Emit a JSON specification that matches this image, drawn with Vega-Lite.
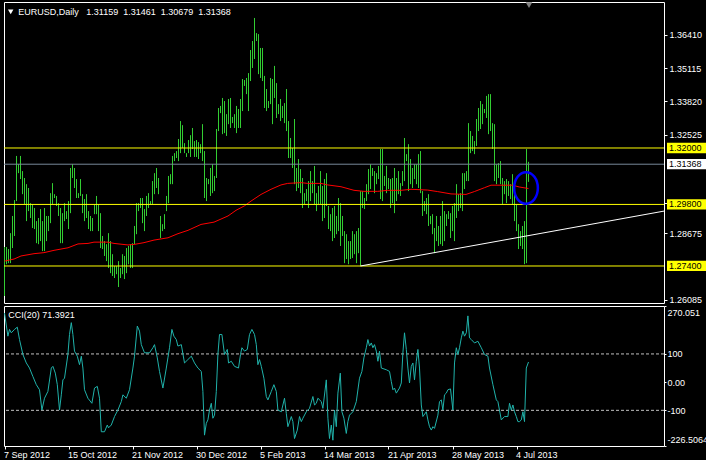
{
"$schema":"https://vega.github.io/schema/vega-lite/v6.json",
"background":"#000000",
"padding":{"left":3,"top":1,"right":0,"bottom":0},
"spacing":3,
"bounds":"flush",
"config":{"view":{"stroke":"#FFFFFF","strokeWidth":1},"font":"Liberation Sans","text":{"font":"Liberation Sans"},
 "axis":{"domain":false,"grid":false,"labelColor":"#FFFFFF","labelFont":"Liberation Sans","labelFontSize":9,"tickColor":"#FFFFFF","labelOverlap":false,"labelAlign":"left"}},
"datasets":{
"bars":[
{"i":0,"h":1.2814,"l":1.2623},{"i":1,"h":1.2814,"l":1.2747},{"i":2,"h":1.2806,"l":1.2751},{"i":3,"h":1.2868,"l":1.2751},{"i":4,"h":1.2935,"l":1.281},{"i":5,"h":1.2997,"l":1.2857},{"i":6,"h":1.3169,"l":1.2993},{"i":7,"h":1.3137,"l":1.3102},{"i":8,"h":1.3169,"l":1.3079},{"i":9,"h":1.311,"l":1.302},
{"i":10,"h":1.3083,"l":1.2981},{"i":11,"h":1.3059,"l":1.2915},{"i":12,"h":1.3044,"l":1.2954},{"i":13,"h":1.2985,"l":1.2927},{"i":14,"h":1.2981,"l":1.2888},{"i":15,"h":1.2966,"l":1.2884},{"i":16,"h":1.2915,"l":1.2829},{"i":17,"h":1.2927,"l":1.2825},{"i":18,"h":1.2962,"l":1.2837},{"i":19,"h":1.2915,"l":1.2798},
{"i":20,"h":1.2966,"l":1.2798},{"i":21,"h":1.2935,"l":1.2837},{"i":22,"h":1.2935,"l":1.2876},{"i":23,"h":1.3024,"l":1.2907},{"i":24,"h":1.3063,"l":1.2981},{"i":25,"h":1.302,"l":1.3005},{"i":26,"h":1.3013,"l":1.2974},{"i":27,"h":1.2985,"l":1.2935},{"i":28,"h":1.2966,"l":1.2829},{"i":29,"h":1.2946,"l":1.2829},
{"i":30,"h":1.2985,"l":1.2915},{"i":31,"h":1.2954,"l":1.2923},{"i":32,"h":1.2993,"l":1.2884},{"i":33,"h":1.3122,"l":1.2946},{"i":34,"h":1.3137,"l":1.3083},{"i":35,"h":1.3122,"l":1.3044},{"i":36,"h":1.3079,"l":1.3005},{"i":37,"h":1.3024,"l":1.3005},{"i":38,"h":1.3079,"l":1.3013},{"i":39,"h":1.302,"l":1.2946},
{"i":40,"h":1.3001,"l":1.2915},{"i":41,"h":1.302,"l":1.2927},{"i":42,"h":1.2954,"l":1.2884},{"i":43,"h":1.2935,"l":1.2876},{"i":44,"h":1.2927,"l":1.2876},{"i":45,"h":1.2981,"l":1.2942},{"i":46,"h":1.3013,"l":1.2942},{"i":47,"h":1.2981,"l":1.2876},{"i":48,"h":1.2946,"l":1.281},{"i":49,"h":1.2857,"l":1.2806},
{"i":50,"h":1.2837,"l":1.2779},{"i":51,"h":1.2825,"l":1.2759},{"i":52,"h":1.2868,"l":1.2732},{"i":53,"h":1.2837,"l":1.2712},{"i":54,"h":1.2786,"l":1.2701},{"i":55,"h":1.274,"l":1.2693},{"i":56,"h":1.274,"l":1.2708},{"i":57,"h":1.2759,"l":1.2658},{"i":58,"h":1.2732,"l":1.2693},{"i":59,"h":1.2786,"l":1.2708},
{"i":60,"h":1.2779,"l":1.2689},{"i":61,"h":1.281,"l":1.2712},{"i":62,"h":1.2818,"l":1.2747},{"i":63,"h":1.2825,"l":1.2732},{"i":64,"h":1.2829,"l":1.2732},{"i":65,"h":1.2896,"l":1.2825},{"i":66,"h":1.2985,"l":1.2864},{"i":67,"h":1.2985,"l":1.2954},{"i":68,"h":1.3005,"l":1.2966},{"i":69,"h":1.3005,"l":1.2907},
{"i":70,"h":1.2962,"l":1.2876},{"i":71,"h":1.3013,"l":1.2935},{"i":72,"h":1.3024,"l":1.2966},{"i":73,"h":1.2993,"l":1.2981},{"i":74,"h":1.3071,"l":1.2981},{"i":75,"h":1.3102,"l":1.302},{"i":76,"h":1.3122,"l":1.3044},{"i":77,"h":1.3083,"l":1.302},{"i":78,"h":1.2935,"l":1.2849},{"i":79,"h":1.2903,"l":1.2876},
{"i":80,"h":1.2942,"l":1.2884},{"i":81,"h":1.3013,"l":1.2954},{"i":82,"h":1.3091,"l":1.2985},{"i":83,"h":1.3098,"l":1.3059},{"i":84,"h":1.3169,"l":1.3059},{"i":85,"h":1.318,"l":1.3149},{"i":86,"h":1.3188,"l":1.3161},{"i":87,"h":1.3235,"l":1.3149},{"i":88,"h":1.3305,"l":1.318},{"i":89,"h":1.3289,"l":1.32},
{"i":90,"h":1.3219,"l":1.318},{"i":91,"h":1.318,"l":1.3165},{"i":92,"h":1.3231,"l":1.318},{"i":93,"h":1.325,"l":1.3165},{"i":94,"h":1.3278,"l":1.3196},{"i":95,"h":1.3227,"l":1.3165},{"i":96,"h":1.3231,"l":1.3165},{"i":97,"h":1.3223,"l":1.3157},{"i":98,"h":1.3215,"l":1.318},{"i":99,"h":1.3293,"l":1.3149},
{"i":100,"h":1.3188,"l":1.3005},{"i":101,"h":1.3083,"l":1.2993},{"i":102,"h":1.3079,"l":1.3059},{"i":103,"h":1.3122,"l":1.3013},{"i":104,"h":1.3137,"l":1.3024},{"i":105,"h":1.3091,"l":1.3032},{"i":106,"h":1.3274,"l":1.3083},{"i":107,"h":1.3356,"l":1.3266},{"i":108,"h":1.3364,"l":1.3336},{"i":109,"h":1.3395,"l":1.3254},
{"i":110,"h":1.3383,"l":1.3258},{"i":111,"h":1.3332,"l":1.3247},{"i":112,"h":1.3391,"l":1.3293},{"i":113,"h":1.3395,"l":1.3278},{"i":114,"h":1.3321,"l":1.3297},{"i":115,"h":1.3332,"l":1.3278},{"i":116,"h":1.3364,"l":1.3258},{"i":117,"h":1.3352,"l":1.3278},{"i":118,"h":1.3391,"l":1.3278},{"i":119,"h":1.3469,"l":1.3344},
{"i":120,"h":1.3465,"l":1.3442},{"i":121,"h":1.3473,"l":1.341},{"i":122,"h":1.3492,"l":1.3344},{"i":123,"h":1.3582,"l":1.3461},{"i":124,"h":1.3617,"l":1.3512},{"i":125,"h":1.3707,"l":1.3547},{"i":126,"h":1.3648,"l":1.3617},{"i":127,"h":1.3644,"l":1.3488},{"i":128,"h":1.359,"l":1.3473},{"i":129,"h":1.359,"l":1.3461},
{"i":130,"h":1.3481,"l":1.3356},{"i":131,"h":1.343,"l":1.3344},{"i":132,"h":1.3383,"l":1.3356},{"i":133,"h":1.3473,"l":1.3371},{"i":134,"h":1.3469,"l":1.3293},{"i":135,"h":1.352,"l":1.3395},{"i":136,"h":1.3453,"l":1.3317},{"i":137,"h":1.3371,"l":1.3332},{"i":138,"h":1.3391,"l":1.3305},{"i":139,"h":1.3364,"l":1.3317},
{"i":140,"h":1.3375,"l":1.3297},{"i":141,"h":1.343,"l":1.3266},{"i":142,"h":1.3305,"l":1.3161},{"i":143,"h":1.3239,"l":1.3161},{"i":144,"h":1.32,"l":1.3122},{"i":145,"h":1.3313,"l":1.3059},{"i":146,"h":1.3122,"l":1.3032},{"i":147,"h":1.3157,"l":1.3044},{"i":148,"h":1.3118,"l":1.3024},{"i":149,"h":1.3083,"l":1.2966},
{"i":150,"h":1.3024,"l":1.2981},{"i":151,"h":1.304,"l":1.2993},{"i":152,"h":1.3071,"l":1.2966},{"i":153,"h":1.311,"l":1.2993},{"i":154,"h":1.3071,"l":1.3024},{"i":155,"h":1.313,"l":1.2981},{"i":156,"h":1.3024,"l":1.2954},{"i":157,"h":1.3052,"l":1.2981},{"i":158,"h":1.311,"l":1.2981},{"i":159,"h":1.3052,"l":1.2915},
{"i":160,"h":1.3079,"l":1.2927},{"i":161,"h":1.3102,"l":1.2974},{"i":162,"h":1.2974,"l":1.2884},{"i":163,"h":1.2942,"l":1.2876},{"i":164,"h":1.2966,"l":1.2837},{"i":165,"h":1.2974,"l":1.2849},{"i":166,"h":1.2935,"l":1.2864},{"i":167,"h":1.3005,"l":1.2876},{"i":168,"h":1.2985,"l":1.2818},{"i":169,"h":1.2935,"l":1.2857},
{"i":170,"h":1.2876,"l":1.2751},{"i":171,"h":1.2864,"l":1.2767},{"i":172,"h":1.2837,"l":1.2747},{"i":173,"h":1.2837,"l":1.2767},{"i":174,"h":1.2876,"l":1.2771},{"i":175,"h":1.2864,"l":1.2786},{"i":176,"h":1.2876,"l":1.2751},{"i":177,"h":1.2888,"l":1.279},{"i":178,"h":1.3032,"l":1.274},{"i":179,"h":1.3032,"l":1.2966},
{"i":180,"h":1.3005,"l":1.2962},{"i":181,"h":1.3059,"l":1.2993},{"i":182,"h":1.3118,"l":1.302},{"i":183,"h":1.3137,"l":1.304},{"i":184,"h":1.3122,"l":1.3091},{"i":185,"h":1.311,"l":1.3024},{"i":186,"h":1.3102,"l":1.3059},{"i":187,"h":1.313,"l":1.3079},{"i":188,"h":1.3196,"l":1.3001},{"i":189,"h":1.3196,"l":1.2993},
{"i":190,"h":1.3091,"l":1.3052},{"i":191,"h":1.313,"l":1.3024},{"i":192,"h":1.3083,"l":1.304},{"i":193,"h":1.3079,"l":1.2966},{"i":194,"h":1.3083,"l":1.2985},{"i":195,"h":1.3122,"l":1.2946},{"i":196,"h":1.3083,"l":1.2993},{"i":197,"h":1.311,"l":1.302},{"i":198,"h":1.3063,"l":1.3013},{"i":199,"h":1.311,"l":1.3052},
{"i":200,"h":1.3239,"l":1.3071},{"i":201,"h":1.3176,"l":1.3149},{"i":202,"h":1.3215,"l":1.3032},{"i":203,"h":1.3157,"l":1.3059},{"i":204,"h":1.3122,"l":1.3044},{"i":205,"h":1.3137,"l":1.3079},{"i":206,"h":1.3137,"l":1.3059},{"i":207,"h":1.3176,"l":1.3044},{"i":208,"h":1.3188,"l":1.3024},{"i":209,"h":1.3032,"l":1.2935},
{"i":210,"h":1.2993,"l":1.2954},{"i":211,"h":1.3005,"l":1.2942},{"i":212,"h":1.302,"l":1.2896},{"i":213,"h":1.2935,"l":1.2903},{"i":214,"h":1.2942,"l":1.2864},{"i":215,"h":1.2888,"l":1.279},{"i":216,"h":1.2935,"l":1.2837},{"i":217,"h":1.2896,"l":1.2818},{"i":218,"h":1.2935,"l":1.2825},{"i":219,"h":1.2993,"l":1.2818},
{"i":220,"h":1.2954,"l":1.2837},{"i":221,"h":1.2942,"l":1.2896},{"i":222,"h":1.2954,"l":1.2923},{"i":223,"h":1.2946,"l":1.2849},{"i":224,"h":1.2974,"l":1.2876},{"i":225,"h":1.2985,"l":1.2837},{"i":226,"h":1.3059,"l":1.2927},{"i":227,"h":1.302,"l":1.2954},{"i":228,"h":1.3024,"l":1.2966},{"i":229,"h":1.3102,"l":1.2954},
{"i":230,"h":1.3102,"l":1.304},{"i":231,"h":1.311,"l":1.3071},{"i":232,"h":1.3297,"l":1.3071},{"i":233,"h":1.3266,"l":1.318},{"i":234,"h":1.3247,"l":1.3188},{"i":235,"h":1.3227,"l":1.3176},{"i":236,"h":1.3313,"l":1.3208},{"i":237,"h":1.3356,"l":1.3266},{"i":238,"h":1.3383,"l":1.3274},{"i":239,"h":1.3371,"l":1.3293},
{"i":240,"h":1.3352,"l":1.3336},{"i":241,"h":1.3403,"l":1.3317},{"i":242,"h":1.341,"l":1.3254},{"i":243,"h":1.341,"l":1.3266},{"i":244,"h":1.3297,"l":1.3196},{"i":245,"h":1.3293,"l":1.3071},{"i":246,"h":1.3137,"l":1.3059},{"i":247,"h":1.3141,"l":1.3083},{"i":248,"h":1.3149,"l":1.3059},{"i":249,"h":1.3083,"l":1.2981},
{"i":250,"h":1.3071,"l":1.302},{"i":251,"h":1.3079,"l":1.2985},{"i":252,"h":1.3071,"l":1.3013},{"i":253,"h":1.3059,"l":1.3001},{"i":254,"h":1.3098,"l":1.2981},{"i":255,"h":1.3059,"l":1.2915},{"i":256,"h":1.2981,"l":1.2876},{"i":257,"h":1.2903,"l":1.2806},{"i":258,"h":1.2876,"l":1.2818},{"i":259,"h":1.2896,"l":1.2806},
{"i":260,"h":1.2915,"l":1.2747},{"i":261,"h":1.3196,"l":1.2751},{"i":262,"h":1.31461,"l":1.30679}
],
"ma":[
{"i":0,"p":1.2759},{"i":4.75,"p":1.2767},{"i":8.25,"p":1.2779},{"i":14.75,"p":1.2788},{"i":19.75,"p":1.2792},{"i":24.75,"p":1.2801},{"i":31.75,"p":1.2811},{"i":36.75,"p":1.2826},{"i":41.75,"p":1.2828},{"i":44.75,"p":1.2833},{"i":51.75,"p":1.2833},{"i":54.75,"p":1.2828},{"i":61.75,"p":1.2822},{"i":64.75,"p":1.2824},{"i":69.75,"p":1.2831},{"i":74.75,"p":1.2841},{"i":81.75,"p":1.285},{"i":86.75,"p":1.2866},{"i":91.75,"p":1.2879},{"i":98.25,"p":1.2902},{"i":104.75,"p":1.2911},{"i":111.75,"p":1.2935},{"i":115.75,"p":1.2957},{"i":119.9,"p":1.2974},{"i":123.25,"p":1.2993},{"i":128.25,"p":1.3019},{"i":133.25,"p":1.3039},{"i":138.25,"p":1.3056},{"i":141.6,"p":1.3062},{"i":148.25,"p":1.3065},{"i":151.6,"p":1.3062},{"i":158.25,"p":1.3062},{"i":161.6,"p":1.3056},{"i":168.25,"p":1.3049},{"i":174.75,"p":1.3035},{"i":179.75,"p":1.3031},{"i":186.6,"p":1.3031},{"i":191.6,"p":1.3035},{"i":198.25,"p":1.3035},{"i":203.25,"p":1.3039},{"i":211.6,"p":1.3036},{"i":216.6,"p":1.303},{"i":223.25,"p":1.3021},{"i":230.75,"p":1.3019},{"i":234.9,"p":1.303},{"i":239.9,"p":1.3045},{"i":243.25,"p":1.3055},{"i":254.1,"p":1.3055},{"i":257.4,"p":1.3048},{"i":262,"p":1.3042}
],
"cci":[
{"i":0,"v":245},{"i":1.7,"v":163},{"i":2.5,"v":187},{"i":3.4,"v":175},{"i":5,"v":187},{"i":6.4,"v":195},{"i":7.5,"v":151},{"i":9.2,"v":98},{"i":10.9,"v":68},{"i":12.5,"v":50},{"i":14.2,"v":20},{"i":15.9,"v":-9},{"i":17.5,"v":-27},{"i":18.7,"v":-99},{"i":20,"v":-57},{"i":21.7,"v":-33},{"i":23.4,"v":50},{"i":24.2,"v":56},{"i":25.4,"v":32},{"i":26.4,"v":-9},{"i":27.5,"v":-99},{"i":28.4,"v":-45},{"i":29.2,"v":8},{"i":30,"v":14},{"i":31.7,"v":98},{"i":32.5,"v":169},{"i":33.4,"v":211},{"i":34.2,"v":169},{"i":35,"v":110},{"i":36.4,"v":92},{"i":37.5,"v":62},{"i":38.4,"v":92},{"i":39.2,"v":50},{"i":40,"v":-27},{"i":41.7,"v":-57},{"i":43.7,"v":-75},{"i":45,"v":-21},{"i":46.4,"v":-15},{"i":47.5,"v":-57},{"i":48.4,"v":-176},{"i":50,"v":-176},{"i":51.4,"v":-152},{"i":52,"v":-162},{"i":53.4,"v":-152},{"i":55,"v":-122},{"i":56.7,"v":-99},{"i":58.4,"v":-69},{"i":59.2,"v":-45},{"i":60.9,"v":-57},{"i":62.5,"v":-27},{"i":64.2,"v":50},{"i":65,"v":92},{"i":66.4,"v":199},{"i":67.5,"v":181},{"i":68.4,"v":133},{"i":70,"v":104},{"i":72.5,"v":104},{"i":74.2,"v":122},{"i":75,"v":133},{"i":76.4,"v":86},{"i":77.5,"v":38},{"i":79.2,"v":-21},{"i":80.9,"v":50},{"i":81.7,"v":86},{"i":82.5,"v":122},{"i":83.7,"v":187},{"i":84.7,"v":163},{"i":85.9,"v":151},{"i":86.7,"v":128},{"i":88.4,"v":133},{"i":90,"v":68},{"i":91.7,"v":80},{"i":93.4,"v":92},{"i":95,"v":68},{"i":96.7,"v":50},{"i":98.4,"v":38},{"i":99.2,"v":-33},{"i":100,"v":-188},{"i":100.9,"v":-146},{"i":101.7,"v":-134},{"i":102.5,"v":-99},{"i":103.4,"v":-75},{"i":104.2,"v":-128},{"i":105,"v":-117},{"i":105.9,"v":-33},{"i":106.7,"v":98},{"i":107.5,"v":169},{"i":108.7,"v":169},{"i":110,"v":98},{"i":111.4,"v":116},{"i":112,"v":68},{"i":113.4,"v":74},{"i":115,"v":56},{"i":117,"v":50},{"i":118,"v":98},{"i":118.7,"v":122},{"i":120,"v":110},{"i":121.4,"v":116},{"i":122.5,"v":169},{"i":123.7,"v":187},{"i":125,"v":169},{"i":125.9,"v":133},{"i":126.7,"v":62},{"i":127.5,"v":80},{"i":128.4,"v":56},{"i":129.7,"v":14},{"i":130.9,"v":-51},{"i":131.7,"v":-63},{"i":133.4,"v":-33},{"i":134.7,"v":-9},{"i":135.9,"v":-33},{"i":136.7,"v":-99},{"i":138.4,"v":-105},{"i":140,"v":-57},{"i":140.9,"v":-111},{"i":141.7,"v":-158},{"i":143.4,"v":-122},{"i":144.2,"v":-140},{"i":145,"v":-200},{"i":146.4,"v":-170},{"i":147.5,"v":-122},{"i":148.4,"v":-140},{"i":149.2,"v":-128},{"i":150.9,"v":-105},{"i":152.5,"v":-93},{"i":154.2,"v":-51},{"i":155,"v":-81},{"i":155.9,"v":-75},{"i":156.7,"v":-57},{"i":158.4,"v":-69},{"i":159.2,"v":-93},{"i":160.9,"v":8},{"i":161.7,"v":-128},{"i":162.5,"v":-200},{"i":163.4,"v":-152},{"i":164.2,"v":-206},{"i":165,"v":-99},{"i":165.9,"v":-158},{"i":166.7,"v":-39},{"i":167.9,"v":32},{"i":168.7,"v":-105},{"i":169.7,"v":-128},{"i":170.9,"v":-182},{"i":171.7,"v":-140},{"i":172.5,"v":-117},{"i":174.2,"v":-105},{"i":175.9,"v":-69},{"i":177.5,"v":14},{"i":178.7,"v":38},{"i":179.7,"v":86},{"i":180.9,"v":122},{"i":181.7,"v":151},{"i":182.5,"v":128},{"i":183.4,"v":139},{"i":184.2,"v":122},{"i":185,"v":133},{"i":185.9,"v":110},{"i":186.7,"v":74},{"i":187.5,"v":110},{"i":188.4,"v":50},{"i":190.9,"v":44},{"i":192.5,"v":38},{"i":193.4,"v":2},{"i":194.2,"v":-27},{"i":195,"v":-21},{"i":195.9,"v":-39},{"i":197.5,"v":-21},{"i":198.4,"v":-3},{"i":199.2,"v":104},{"i":200,"v":175},{"i":200.9,"v":116},{"i":201.7,"v":50},{"i":202.5,"v":-3},{"i":203.4,"v":56},{"i":204.2,"v":68},{"i":205,"v":8},{"i":205.9,"v":74},{"i":206.7,"v":116},{"i":207.5,"v":50},{"i":208.4,"v":-81},{"i":209.2,"v":-122},{"i":210.9,"v":-105},{"i":211.7,"v":-134},{"i":212.5,"v":-158},{"i":213.4,"v":-170},{"i":214.2,"v":-158},{"i":215,"v":-164},{"i":216.7,"v":-117},{"i":217.5,"v":-69},{"i":218.4,"v":-63},{"i":219.2,"v":-99},{"i":220,"v":-45},{"i":220.9,"v":-39},{"i":221.7,"v":-27},{"i":223,"v":-24},{"i":224.2,"v":-99},{"i":225,"v":68},{"i":225.9,"v":122},{"i":226.7,"v":98},{"i":227.5,"v":122},{"i":228.4,"v":157},{"i":229.2,"v":181},{"i":230,"v":163},{"i":230.9,"v":175},{"i":231.7,"v":235},{"i":232.5,"v":157},{"i":233.4,"v":151},{"i":235,"v":139},{"i":236.7,"v":145},{"i":238.4,"v":122},{"i":240,"v":98},{"i":241.7,"v":92},{"i":242.5,"v":50},{"i":244.2,"v":-9},{"i":245.9,"v":-63},{"i":246.7,"v":-69},{"i":248.4,"v":-134},{"i":250,"v":-122},{"i":251.7,"v":-122},{"i":252.5,"v":-75},{"i":253.4,"v":-99},{"i":254.2,"v":-81},{"i":255,"v":-105},{"i":255.9,"v":-122},{"i":256.7,"v":-140},{"i":257.5,"v":-140},{"i":258.4,"v":-134},{"i":259.2,"v":-105},{"i":260,"v":-140},{"i":260.9,"v":50},{"i":262,"v":71.39}
],
"levels":[{"p":1.32,"t":"1.32000","k":"sr"},{"p":1.298,"t":"1.29800","k":"sr"},{"p":1.274,"t":"1.27400","k":"sr"},{"p":1.31368,"t":"1.31368","k":"bid"}]
},
"vconcat":[
{
"width":660,"height":301,
"layer":[
{"data":{"name":"bars"},"mark":{"type":"rule","color":"#32CD32","strokeWidth":1},
 "encoding":{"x":{"field":"i","type":"quantitative","scale":{"domain":[-0.25,329.75],"nice":false,"zero":false},"axis":null},
 "y":{"field":"h","type":"quantitative","scale":{"domain":[1.25957,1.37692],"nice":false,"zero":false},
   "axis":{"orient":"right","values":[1.3641,1.35115,1.3382,1.32525,1.2987,1.28675,1.26085],"format":".5f","title":null,"tickSize":3,"labelPadding":2,"labelFlush":false,"labelBaseline":"middle"}},
 "y2":{"field":"l"}}},
{"data":{"name":"ma"},"mark":{"type":"line","color":"#FF0000","strokeWidth":1,"clip":true},
 "encoding":{"x":{"field":"i","type":"quantitative","scale":{"domain":[-0.25,329.75],"nice":false,"zero":false},"axis":null},
 "y":{"field":"p","type":"quantitative","scale":{"domain":[1.25957,1.37692],"nice":false,"zero":false},
   "axis":{"orient":"right","values":[1.3641,1.35115,1.3382,1.32525,1.2987,1.28675,1.26085],"format":".5f","title":null,"tickSize":3,"labelPadding":2,"labelFlush":false,"labelBaseline":"middle"}}}},
{"data":{"name":"levels"},"mark":{"type":"rule","strokeWidth":1},
 "encoding":{"y":{"field":"p","type":"quantitative","scale":{"domain":[1.25957,1.37692],"nice":false,"zero":false},
   "axis":{"orient":"right","values":[1.3641,1.35115,1.3382,1.32525,1.2987,1.28675,1.26085],"format":".5f","title":null,"tickSize":3,"labelPadding":2,"labelFlush":false,"labelBaseline":"middle"}},
 "color":{"condition":{"test":"datum.k === 'bid'","value":"#778899"},"value":"#FFFF00"}}},
{"data":{"values":[{}]},"mark":{"type":"rule","color":"#FFFFFF","strokeWidth":1,"clip":true},
 "encoding":{"x":{"datum":178,"type":"quantitative","scale":{"domain":[-0.25,329.75],"nice":false,"zero":false},"axis":null},
 "y":{"datum":1.274,"type":"quantitative","scale":{"domain":[1.25957,1.37692],"nice":false,"zero":false},
   "axis":{"orient":"right","values":[1.3641,1.35115,1.3382,1.32525,1.2987,1.28675,1.26085],"format":".5f","title":null,"tickSize":3,"labelPadding":2,"labelFlush":false,"labelBaseline":"middle"}},
 "x2":{"datum":329.75},"y2":{"datum":1.2954}}},
{"data":{"values":[{}]},"mark":{"type":"point","shape":"M -0.75 0 A 0.75 1 0 1 1 0.75 0 A 0.75 1 0 1 1 -0.75 0 Z","filled":false,"stroke":"#0000FF","strokeWidth":2.5,"size":1000,"opacity":1},
 "encoding":{"x":{"datum":260.75,"type":"quantitative","scale":{"domain":[-0.25,329.75],"nice":false,"zero":false},"axis":null},
 "y":{"datum":1.3044,"type":"quantitative","scale":{"domain":[1.25957,1.37692],"nice":false,"zero":false},
   "axis":{"orient":"right","values":[1.3641,1.35115,1.3382,1.32525,1.2987,1.28675,1.26085],"format":".5f","title":null,"tickSize":3,"labelPadding":2,"labelFlush":false,"labelBaseline":"middle"}}}},
{"data":{"values":[{}]},"mark":{"type":"point","shape":"triangle-down","filled":true,"color":"#FFFFFF","size":30,"opacity":1},
 "encoding":{"x":{"datum":3.1,"type":"quantitative","scale":{"domain":[-0.25,329.75],"nice":false,"zero":false},"axis":null},
 "y":{"datum":1.3731,"type":"quantitative","scale":{"domain":[1.25957,1.37692],"nice":false,"zero":false},
   "axis":{"orient":"right","values":[1.3641,1.35115,1.3382,1.32525,1.2987,1.28675,1.26085],"format":".5f","title":null,"tickSize":3,"labelPadding":2,"labelFlush":false,"labelBaseline":"middle"}}}},
{"data":{"values":[{}]},"mark":{"type":"point","shape":"triangle-down","filled":true,"color":"#808080","size":45,"opacity":1},
 "encoding":{"x":{"datum":262.25,"type":"quantitative","scale":{"domain":[-0.25,329.75],"nice":false,"zero":false},"axis":null},
 "y":{"datum":1.3757,"type":"quantitative","scale":{"domain":[1.25957,1.37692],"nice":false,"zero":false},
   "axis":{"orient":"right","values":[1.3641,1.35115,1.3382,1.32525,1.2987,1.28675,1.26085],"format":".5f","title":null,"tickSize":3,"labelPadding":2,"labelFlush":false,"labelBaseline":"middle"}}}},
{"data":{"values":[{"t":"EURUSD,Daily\u00a0\u00a0\u00a01.31159\u00a0\u00a01.31461\u00a0\u00a01.30679\u00a0\u00a01.31368"}]},"mark":{"type":"text","align":"left","baseline":"middle","color":"#FFFFFF","font":"Liberation Sans","fontSize":9},
 "encoding":{"x":{"datum":6.9,"type":"quantitative","scale":{"domain":[-0.25,329.75],"nice":false,"zero":false},"axis":null},
 "y":{"datum":1.37314,"type":"quantitative","scale":{"domain":[1.25957,1.37692],"nice":false,"zero":false},
   "axis":{"orient":"right","values":[1.3641,1.35115,1.3382,1.32525,1.2987,1.28675,1.26085],"format":".5f","title":null,"tickSize":3,"labelPadding":2,"labelFlush":false,"labelBaseline":"middle"}},
 "text":{"field":"t"}}},
{"data":{"name":"levels"},"mark":{"type":"point","shape":"M -1 -0.26 L 1 -0.26 L 1 0.26 L -1 0.26 Z","filled":true,"size":1560,"opacity":1,"clip":false},
 "encoding":{"x":{"datum":341.125,"type":"quantitative","scale":{"domain":[-0.25,329.75],"nice":false,"zero":false},"axis":null},
 "y":{"field":"p","type":"quantitative","scale":{"domain":[1.25957,1.37692],"nice":false,"zero":false},
   "axis":{"orient":"right","values":[1.3641,1.35115,1.3382,1.32525,1.2987,1.28675,1.26085],"format":".5f","title":null,"tickSize":3,"labelPadding":2,"labelFlush":false,"labelBaseline":"middle"}},
 "color":{"condition":{"test":"datum.k === 'bid'","value":"#FFFFFF"},"value":"#FFFF00"}}},
{"data":{"name":"levels"},"mark":{"type":"text","align":"left","baseline":"middle","color":"#000000","font":"Liberation Sans","fontSize":9,"clip":false},
 "encoding":{"x":{"datum":332.25,"type":"quantitative","scale":{"domain":[-0.25,329.75],"nice":false,"zero":false},"axis":null},
 "y":{"field":"p","type":"quantitative","scale":{"domain":[1.25957,1.37692],"nice":false,"zero":false},
   "axis":{"orient":"right","values":[1.3641,1.35115,1.3382,1.32525,1.2987,1.28675,1.26085],"format":".5f","title":null,"tickSize":3,"labelPadding":2,"labelFlush":false,"labelBaseline":"middle"}},
 "text":{"field":"t"}}}
]
},
{
"width":660,"height":140,
"layer":[
{"data":{"values":[{"v":100},{"v":-100}]},"mark":{"type":"rule","color":"#C0C0C0","strokeWidth":1,"strokeDash":[3,2]},
 "encoding":{"y":{"field":"v","type":"quantitative","scale":{"domain":[-226.5064,270.051],"nice":false,"zero":false},
   "axis":{"orient":"right","values":[270.051,100,0,-100,-226.5064],"labelExpr":"datum.value === 0 ? '0.00' : '' + datum.value","title":null,"tickSize":2,"labelPadding":1,"labelFlush":true,"labelFlushOffset":-2}}}},
{"data":{"name":"cci"},"mark":{"type":"line","color":"#20B2AA","strokeWidth":1,"clip":true},
 "encoding":{"x":{"field":"i","type":"quantitative","scale":{"domain":[-0.25,329.75],"nice":false,"zero":false},
   "axis":{"orient":"bottom","values":[0,32,64,96,128,160,192,224,256],"labelExpr":"['7 Sep 2012','15 Oct 2012','21 Nov 2012','30 Dec 2012','5 Feb 2013','14 Mar 2013','21 Apr 2013','28 May 2013','4 Jul 2013'][round(datum.value/32)]","title":null,"tickSize":3,"labelPadding":5,"labelOffset":-1,"labelFlush":false,"labelBaseline":"middle"}},
 "y":{"field":"v","type":"quantitative","scale":{"domain":[-226.5064,270.051],"nice":false,"zero":false},
   "axis":{"orient":"right","values":[270.051,100,0,-100,-226.5064],"labelExpr":"datum.value === 0 ? '0.00' : '' + datum.value","title":null,"tickSize":2,"labelPadding":1,"labelFlush":true,"labelFlushOffset":-2}}}},
{"data":{"values":[{"t":"CCI(20) 71.3921"}]},"mark":{"type":"text","align":"left","baseline":"middle","color":"#FFFFFF","font":"Liberation Sans","fontSize":9},
 "encoding":{"x":{"datum":1.9,"type":"quantitative","scale":{"domain":[-0.25,329.75],"nice":false,"zero":false},
   "axis":{"orient":"bottom","values":[0,32,64,96,128,160,192,224,256],"labelExpr":"['7 Sep 2012','15 Oct 2012','21 Nov 2012','30 Dec 2012','5 Feb 2013','14 Mar 2013','21 Apr 2013','28 May 2013','4 Jul 2013'][round(datum.value/32)]","title":null,"tickSize":3,"labelPadding":5,"labelOffset":-1,"labelFlush":false,"labelBaseline":"middle"}},
 "y":{"datum":238.1,"type":"quantitative","scale":{"domain":[-226.5064,270.051],"nice":false,"zero":false},
   "axis":{"orient":"right","values":[270.051,100,0,-100,-226.5064],"labelExpr":"datum.value === 0 ? '0.00' : '' + datum.value","title":null,"tickSize":2,"labelPadding":1,"labelFlush":true,"labelFlushOffset":-2}},
 "text":{"field":"t"}}}
]
}
]
}
